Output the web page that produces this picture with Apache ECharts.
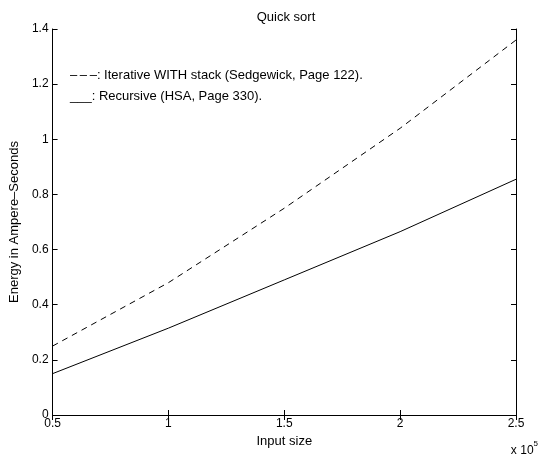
<!DOCTYPE html>
<html>
<head>
<meta charset="utf-8">
<script src="https://cdn.jsdelivr.net/npm/echarts@6/dist/echarts.min.js"></script>
<style>
  html, body { margin: 0; padding: 0; background: #fff; }
  #chart { width: 543px; height: 459px; }
</style>
</head>
<body>
<div id="chart"></div>
<script>
// input size (x 10^5)
const inputSize = [0.5, 1, 1.5, 2, 2.5];
// energy, ampere-seconds
const iterativeStack = [0.25, 0.48, 0.75, 1.04, 1.36];
const recursive = [0.15, 0.315, 0.49, 0.665, 0.855];
const xTicks = [0.5, 1, 1.5, 2, 2.5];
const yTicks = [0, 0.2, 0.4, 0.6, 0.8, 1, 1.2, 1.4];

const font = 'Liberation Sans, Arial, Helvetica, sans-serif';
const chart = echarts.init(document.getElementById('chart'));

const pairs = (ys) => inputSize.map((x, i) => [x, ys[i]]);

const baseX = {
  type: 'value', min: 0.5, max: 2.5, interval: 0.5,
  axisLine: { show: true, lineStyle: { color: '#000', width: 1 } },
  axisTick: { show: true, inside: true, length: 5, lineStyle: { color: '#000' } },
  splitLine: { show: false }
};
const baseY = {
  type: 'value', min: 0, max: 1.4, interval: 0.2,
  axisLine: { show: true, lineStyle: { color: '#000', width: 1 } },
  axisTick: { show: true, inside: true, length: 5, lineStyle: { color: '#000' } },
  splitLine: { show: false }
};

const option = {
  animation: false,
  backgroundColor: '#fff',
  textStyle: { fontFamily: font },
  title: {
    text: 'Quick sort',
    left: 281, top: 6, textAlign: 'center',
    textStyle: { fontSize: 13, fontWeight: 'normal', color: '#000', fontFamily: font }
  },
  grid: { left: 46, right: 27, top: 29, bottom: 44 },
  xAxis: [
    Object.assign({}, baseX, {
      position: 'bottom',
      name: 'Input size', nameLocation: 'middle', nameGap: 17,
      nameTextStyle: { fontSize: 13, color: '#000', fontFamily: font },
      axisLabel: {
        color: '#000', fontSize: 12, fontFamily: font, margin: 3,
        alignMinLabel: 'center', alignMaxLabel: 'center',
        formatter: (v) => xTicks.includes(v) ? String(v) : ''
      }
    }),
    Object.assign({}, baseX, { position: 'top', axisLabel: { show: false } })
  ],
  yAxis: [
    Object.assign({}, baseY, {
      position: 'left',
      name: 'Energy in Ampere\u2013Seconds', nameLocation: 'middle', nameGap: 16,
      nameTextStyle: { fontSize: 13, color: '#000', fontFamily: font },
      axisLabel: {
        color: '#000', fontSize: 12, fontFamily: font, margin: 4,
        formatter: (v) => {
          const t = yTicks.find((k) => Math.abs(k - v) < 1e-9);
          return t === undefined ? '' : String(t);
        }
      }
    }),
    Object.assign({}, baseY, { position: 'right', axisLabel: { show: false } })
  ],
  graphic: [
    {
      type: 'text', left: 70, top: 69,
      style: { text: '\u2013\u2009\u2013\u2009\u2013: Iterative WITH stack (Sedgewick, Page 122).', fill: '#000', font: '13px ' + font }
    },
    {
      type: 'text', left: 70, top: 90,
      style: { text: '___: Recursive (HSA, Page 330).', fill: '#000', font: '13px ' + font }
    },
    {
      type: 'text', right: 5, top: 440,
      style: {
        text: '{a|x 10}{s|5}',
        fill: '#000',
        rich: {
          a: { fontSize: 12, fontFamily: font, fill: '#000', padding: [5, 0, 0, 0] },
          s: { fontSize: 8, fontFamily: font, fill: '#000', verticalAlign: 'top' }
        }
      }
    }
  ],
  series: [
    {
      name: 'Iterative WITH stack',
      type: 'line',
      data: pairs(iterativeStack),
      showSymbol: false,
      lineStyle: { color: '#000', width: 1, type: [6, 5] }
    },
    {
      name: 'Recursive',
      type: 'line',
      data: pairs(recursive),
      showSymbol: false,
      lineStyle: { color: '#000', width: 1, type: 'solid' }
    }
  ]
};

chart.setOption(option);
</script>
</body>
</html>
